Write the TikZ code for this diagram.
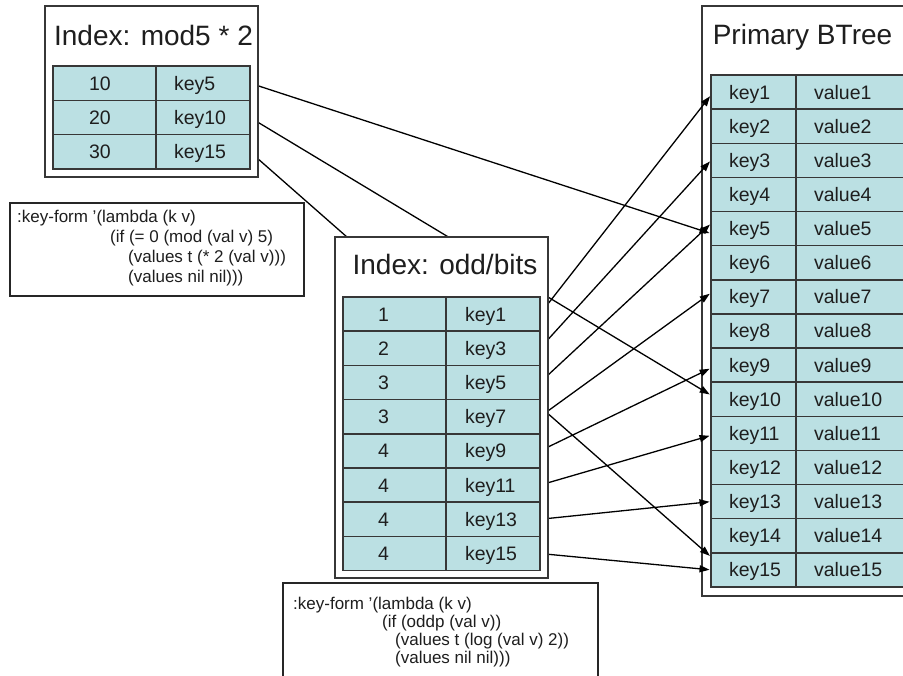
\documentclass[tikz,border=0pt]{standalone}
\usepackage{fontspec}
\setmainfont{Liberation Sans}
\usetikzlibrary{arrows.meta}

\definecolor{cellfill}{RGB}{187,224,227}
\definecolor{ink}{RGB}{30,30,30}
\definecolor{edge}{RGB}{55,55,55}

\pgfdeclarelayer{back}
\pgfdeclarelayer{front}
\pgfsetlayers{back,main,front}

% text inside a cell: fixed width, left inset
\newcommand\celltxt[3]{\makebox[#1][l]{\hspace*{#2}#3}}

\tikzset{
  frame/.style={draw=edge, line width=1.8pt, fill=white, inner sep=0pt, outer sep=0pt, anchor=north west},
  codeframe/.style={draw=black!85, line width=1.2pt, fill=white, inner sep=0pt, outer sep=0pt, anchor=north west},
  cell/.style={draw=edge, line width=1.5pt, fill=cellfill, inner sep=0pt, outer sep=0pt,
    anchor=north west, text height=14pt, text depth=0pt, text=ink,
    font=\fontsize{19.5}{22}\selectfont},
  title/.style={anchor=base, inner sep=0pt, text=ink, font=\fontsize{28}{32}\selectfont},
  code/.style={anchor=base west, inner sep=0pt, text=ink, font=\fontsize{17}{20}\selectfont},
  link/.style={draw=black, line width=1.3pt, shorten >=1.5pt, -{Triangle[length=10pt,width=7pt]}},
}

\begin{document}
\begin{tikzpicture}[x=1pt,y=-1pt]
\useasboundingbox (0,0) rectangle (903,676);

% ---------- index tables and key-form boxes (top layer) ----------
\begin{pgfonlayer}{front}
\clip (0,0) rectangle (903,676);

% Index: mod5 * 2
\node[frame, minimum width=213pt, minimum height=171pt] (modbox) at (45,6) {};
\node[title] (modtitle) at (153.5,46) {Index: mod5 * 2};
\foreach \n/\k [count=\i] in {10/key5,20/key10,30/key15} {
  \node[cell, minimum width=103pt, minimum height=34.33pt] (ma\i) at (53,{66+(\i-1)*34.33}) {\celltxt{103pt}{36pt}{\n}};
  \node[cell, minimum width=94pt, minimum height=34.33pt] (mb\i) at (156,{66+(\i-1)*34.33}) {\celltxt{94pt}{18pt}{\k}};
}

% key-form of the mod5 index
\node[codeframe, minimum width=294pt, minimum height=93pt] (modcode) at (10,203) {};
\node[code] (modc1) at (17,223) {:key-form '(lambda (k v)};
\node[code] (modc2) at (110,243) {(if (= 0 (mod (val v) 5)};
\node[code] (modc3) at (128,263) {(values t (* 2 (val v)))};
\node[code] (modc4) at (128,283) {(values nil nil)))};

% Index: odd/bits
\node[frame, minimum width=213pt, minimum height=341pt] (oddbox) at (335,237) {};
\node[title] (oddtitle) at (445,275) {Index: odd/bits};
\foreach \n/\k [count=\i] in {1/key1,2/key3,3/key5,3/key7,4/key9,4/key11,4/key13,4/key15} {
  \node[cell, minimum width=103pt, minimum height=34.2pt] (oa\i) at (343,{297+(\i-1)*34.2}) {\celltxt{103pt}{35pt}{\n}};
  \node[cell, minimum width=94pt, minimum height=34.2pt] (ob\i) at (446,{297+(\i-1)*34.2}) {\celltxt{94pt}{19pt}{\k}};
}

% key-form of the odd/bits index
\node[codeframe, minimum width=315pt, minimum height=120pt] (oddcode) at (283,583) {};
\node[code] (oddc1) at (293,609) {:key-form '(lambda (k v)};
\node[code] (oddc2) at (382,627) {(if (oddp (val v))};
\node[code] (oddc3) at (395,645) {(values t (log (val v) 2))};
\node[code] (oddc4) at (395,663) {(values nil nil)))};
\end{pgfonlayer}

% ---------- primary btree (bottom layer) ----------
\begin{pgfonlayer}{back}
\clip (0,0) rectangle (903,676);
\node[frame, minimum width=230pt, minimum height=590pt] (treebox) at (702,6) {};
\node[title] (treetitle) at (802.5,45) {Primary BTree};
\foreach \i in {1,...,15} {
  \node[cell, minimum width=85pt, minimum height=34.13pt] (k\i) at (711,{75+(\i-1)*34.13}) {\celltxt{85pt}{18pt}{key\i}};
  \node[cell, minimum width=124pt, minimum height=34.13pt] (v\i) at (796,{75+(\i-1)*34.13}) {\celltxt{124pt}{18pt}{value\i}};
}
\end{pgfonlayer}

% ---------- index entries pointing into the btree ----------
\draw[link] (mb1.east) -- ([yshift=-5pt]k5.west);
\draw[link] (mb2.east) -- ([yshift=4pt]k10.west);
\draw[link] (mb3.east) -- ([yshift=13pt]k15.west);

\draw[link] (ob1.east) -- ([yshift=-3pt]k1.west);
\draw[link] (ob2.east) -- (k3.west);
\draw[link] (ob3.east) -- ([yshift=5pt]k5.west);
\draw[link] (ob4.east) -- ([yshift=4pt]k7.west);
\draw[link] (ob5.east) -- ([yshift=-3pt]k9.west);
\draw[link] (ob6.east) -- ([yshift=-2pt]k11.west);
\draw[link] (ob7.east) -- (k13.west);
\draw[link] (ob8.east) -- (k15.west);
\end{tikzpicture}
\end{document}
